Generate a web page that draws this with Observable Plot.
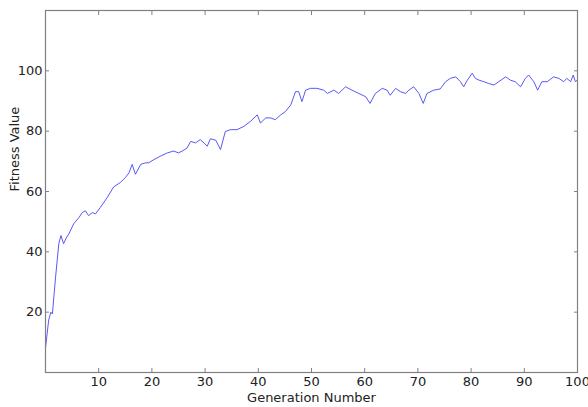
<!DOCTYPE html>
<html>
<head>
<meta charset="utf-8">
<script src="https://cdn.jsdelivr.net/npm/d3@7"></script>
<script src="https://cdn.jsdelivr.net/npm/@observablehq/plot@0.6"></script>
<style>
  html, body { margin: 0; padding: 0; background: #fff; }
  #chart { width: 588px; height: 407px; }
</style>
</head>
<body>
<div id="chart"></div>
<script>
const generations = [0, 0.6, 1, 1.3, 1.6, 1.9, 2.5, 2.9, 3.4, 3.9, 4.4, 5.3, 6.3, 6.9, 7.5, 8.1, 8.8, 9.4, 10.3, 11.6, 12.8, 14.1, 15, 15.7, 16.3, 16.9, 17.9, 18.8, 19.4, 20.4, 21.6, 22.9, 24.1, 25, 25.7, 26.6, 27.3, 28.2, 29.1, 29.8, 30.4, 31, 32, 32.9, 33.8, 34.8, 36, 37.3, 38.5, 39.8, 40.4, 41.4, 42.3, 43.2, 44.2, 45.1, 46.1, 47, 47.6, 48.2, 48.9, 49.8, 51, 52.3, 53, 54.2, 55.1, 56.4, 57.6, 58.9, 60.2, 61, 62, 63.3, 64.2, 64.8, 65.8, 66.7, 67.7, 68.3, 69.2, 70.2, 71, 71.7, 73, 74.2, 75.2, 76.1, 77.1, 78, 78.6, 79.3, 80.2, 80.8, 81.5, 82.4, 83.3, 84.3, 85.2, 86.5, 87.4, 88.3, 89.3, 90.2, 90.8, 91.8, 92.5, 93.3, 94.3, 95.5, 96.5, 97.4, 98, 98.7, 99.2, 99.6, 100];
const fitness = [8.2, 17.4, 20, 19.4, 25.6, 31.7, 42.7, 45.4, 42.7, 44.6, 46, 49.3, 51.4, 53, 53.6, 52, 53, 52.6, 54.7, 58, 61.5, 63, 64.6, 66.2, 69, 65.7, 69, 69.5, 69.5, 70.6, 71.7, 72.8, 73.4, 72.8, 73.4, 74.4, 76.6, 76.1, 77.2, 76.1, 75, 77.5, 77, 73.9, 79.9, 80.5, 80.5, 81.6, 83.2, 85.4, 82.7, 84.4, 84.4, 83.8, 85.4, 86.5, 88.7, 93.1, 93.1, 89.8, 93.6, 94.2, 94.2, 93.6, 92.5, 93.6, 92.5, 94.7, 93.6, 92.5, 91.4, 89.2, 92.5, 94.2, 93.6, 91.9, 94.2, 93.1, 92.5, 93.6, 94.7, 92.5, 89.2, 92.5, 93.6, 94, 96.4, 97.5, 98, 96.4, 94.7, 96.9, 99.2, 97.5, 96.9, 96.4, 95.8, 95.3, 96.4, 98, 96.9, 96.4, 94.7, 97.5, 98.6, 96.4, 93.6, 96.4, 96.4, 98, 97.5, 96.4, 97.5, 96.4, 98.6, 96.4, 97];
const xTicks = [10, 20, 30, 40, 50, 60, 70, 80, 90, 100];
const yTicks = [20, 40, 60, 80, 100];
const xLabel = "Generation Number";
const yLabel = "Fitness Value";

const data = generations.map((g, i) => ({g, v: fitness[i]}));
const ink = "#222";
const frameColor = "#808080";

const plot = Plot.plot({
  width: 588,
  height: 407,
  marginLeft: 45,
  marginRight: 11,
  marginTop: 10,
  marginBottom: 35,
  style: {fontFamily: "DejaVu Sans, Verdana, sans-serif", fontSize: "13px", color: ink, background: "#fff"},
  x: {domain: [0, 100]},
  y: {domain: [0, 120]},
  marks: [
    Plot.line(data, {x: "g", y: "v", stroke: "#4646f2", strokeWidth: 0.9}),
    Plot.frame({stroke: frameColor, strokeWidth: 1.2}),
    Plot.axisX(xTicks, {anchor: "bottom", tickSize: 0, tickPadding: 4, label: null, fill: ink}),
    Plot.axisY(yTicks, {anchor: "left", tickSize: 0, tickPadding: 3, label: null, fill: ink}),
    Plot.axisX(xTicks, {anchor: "bottom", tickSize: -4, tickFormat: () => "", label: null, stroke: frameColor}),
    Plot.axisX(xTicks, {anchor: "top", tickSize: -4, tickFormat: () => "", label: null, stroke: frameColor}),
    Plot.axisY(yTicks, {anchor: "left", tickSize: -4, tickFormat: () => "", label: null, stroke: frameColor}),
    Plot.axisY(yTicks, {anchor: "right", tickSize: -4, tickFormat: () => "", label: null, stroke: frameColor}),
    Plot.text([xLabel], {text: d => d, frameAnchor: "bottom", dy: 29, fill: ink}),
    Plot.text([yLabel], {text: d => d, frameAnchor: "left", dx: -31, rotate: -90, fill: ink})
  ]
});
document.getElementById("chart").appendChild(plot);
</script>
</body>
</html>
